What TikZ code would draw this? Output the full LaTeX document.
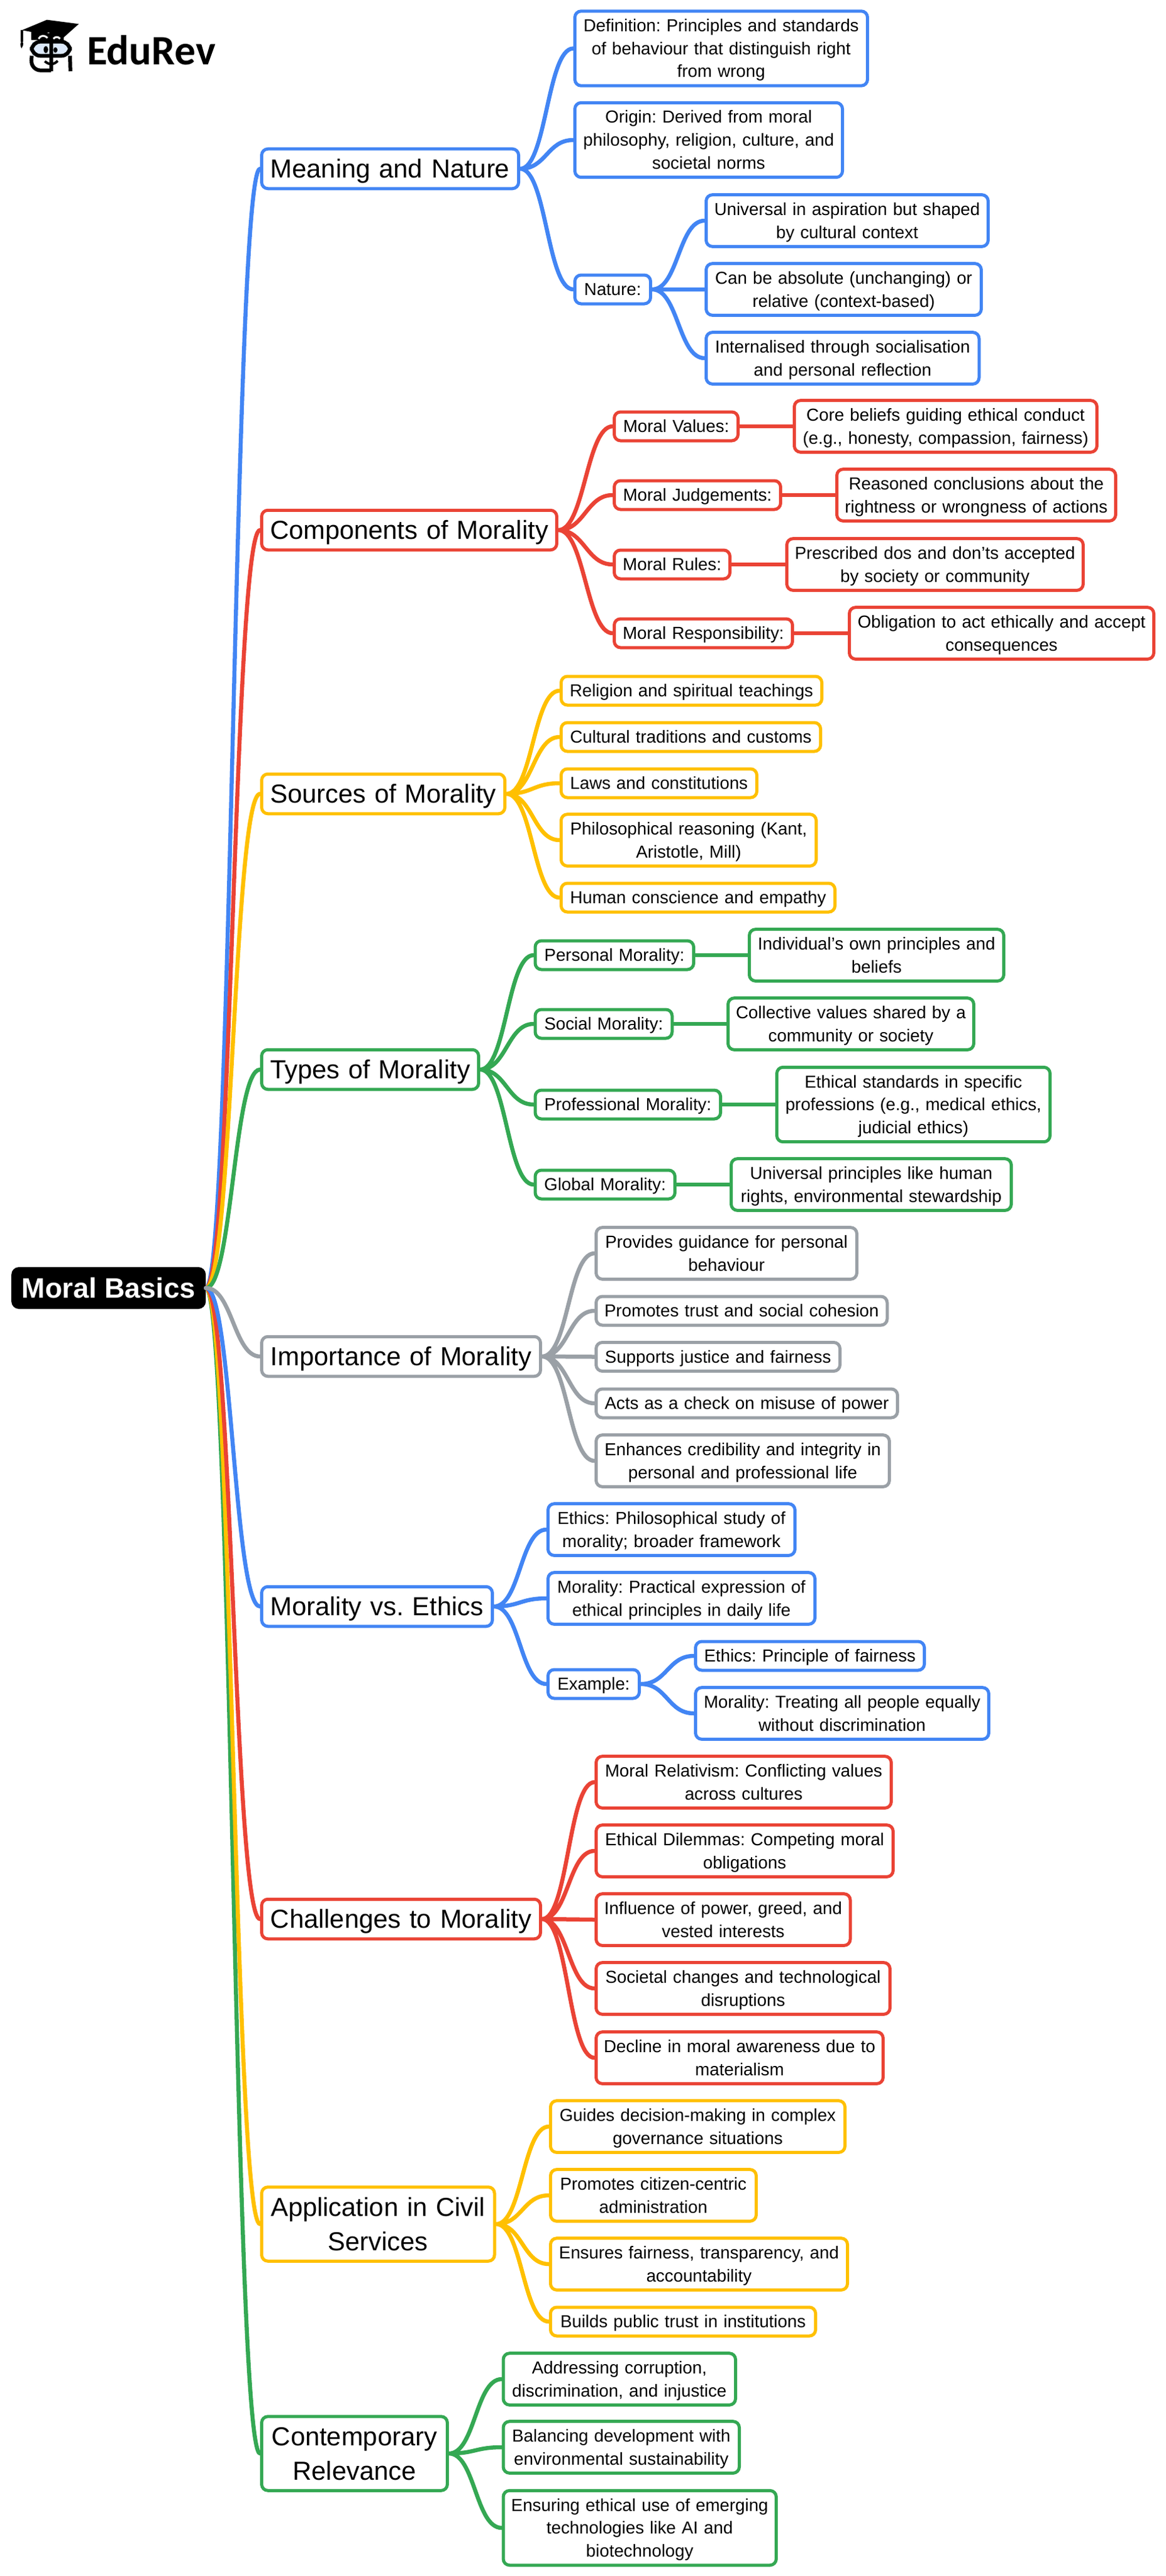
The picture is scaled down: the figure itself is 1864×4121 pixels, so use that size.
\documentclass[tikz,border=0pt]{standalone}
\usepackage{fontspec}
\setmainfont{Liberation Sans}
\newfontfamily\logofont{Carlito}
\definecolor{mapblue}{HTML}{4285F4}
\definecolor{mapred}{HTML}{EA4335}
\definecolor{mapyellow}{HTML}{FFC000}
\definecolor{mapgreen}{HTML}{34A853}
\definecolor{mapgray}{HTML}{9AA0A6}
\definecolor{mapglass}{HTML}{DCE9FB}
\newcommand{\leafstrut}{\rule[-8.65pt]{0pt}{36.7pt}}
\newcommand{\branchstrut}{\rule[-12.95pt]{0pt}{55pt}}

\begin{document}
\frenchspacing
\begin{tikzpicture}[x=1pt,y=-1pt,
   rootbox/.style={fill=black,text=white,rounded corners=12pt,anchor=west,minimum width=311pt,
      minimum height=67pt,inner sep=0pt,font=\fontsize{45}{50}\selectfont\bfseries},
   mapbox/.style={fill=white,line width=5pt,rounded corners=10pt,anchor=west,align=center,inner xsep=0pt},
   branch/.style={mapbox,inner ysep=4.25pt,font=\fontsize{41.7}{55}\selectfont,
      execute at begin node=\branchstrut,execute at end node=\branchstrut},
   leaf/.style={mapbox,inner ysep=4.65pt,font=\fontsize{27.8}{36.7}\selectfont,
      execute at begin node=\leafstrut,execute at end node=\leafstrut},
   link/.style={line width=6.5pt,line cap=round,to path={.. controls +(42,0) and +(-42,0) .. (\tikztotarget)}}]
\useasboundingbox (0,0) rectangle (1864,4121);

% logo
\begin{scope}[shift={(20,20)},x=0.3333pt,y=-0.3333pt]
\fill[mapglass] (92,142) rectangle (276,206);
\fill (45,85) -- (165,35) -- (318,55) -- (243,122) -- (170,95) -- (150,130) -- (90,130) -- (90,93) -- cycle;
\fill (90,100) rectangle (245,132);
\draw[white,line width=3pt] (125,126) .. controls (135,108) and (155,108) .. (168,122);
\draw[white,line width=3pt] (196,126) .. controls (205,115) and (220,115) .. (228,126);
\draw[line width=3.5pt] (45,85) -- (45,142);
\fill (45,138) .. controls (33,148) and (38,160) .. (43,172) .. controls (50,160) and (58,148) .. (45,138);
\draw[line width=6pt,rounded corners=14pt] (92,140) rectangle (276,208);
\draw[line width=6pt] (185,132) -- (185,282);
\draw[line width=6pt,rounded corners=16pt] (92,208) -- (88,278) -- (185,278);
\draw[line width=6pt,rounded corners=16pt] (276,208) -- (278,282);
\fill (160,178) ellipse [x radius=11,y radius=17];
\fill (206,180) ellipse [x radius=10,y radius=13];
\draw[line width=4pt] (155,234) .. controls (175,252) and (198,252) .. (217,232);
\end{scope}
\node[anchor=west,inner sep=0pt,font=\fontsize{67}{67}\selectfont\logofont\bfseries] (logotext) at (139,80) {EduRev};

\node[rootbox] (root) at (18,2060.5) {Moral Basics};

\node[branch,draw=mapblue,text width=411pt] (mean) at (416,270) {Meaning and Nature};
\node[leaf,draw=mapblue,text width=468pt] (defn) at (917,77.5) {Definition: Principles and standards\\of behaviour that distinguish right\\from wrong};
\node[leaf,draw=mapblue,text width=428pt] (orig) at (917,224) {Origin: Derived from moral\\philosophy, religion, culture, and\\societal norms};
\node[leaf,draw=mapblue,text width=121pt] (natr) at (917,463) {Nature:};
\node[leaf,draw=mapblue,text width=451pt] (univ) at (1127,353) {Universal in aspiration but shaped\\by cultural context};
\node[leaf,draw=mapblue,text width=440pt] (absl) at (1127,463) {Can be absolute (unchanging) or\\relative (context-based)};
\node[leaf,draw=mapblue,text width=436.5pt] (intl) at (1127,573) {Internalised through socialisation\\and personal reflection};

\node[branch,draw=mapred,text width=472pt] (comp) at (416,848) {Components of Morality};
\node[leaf,draw=mapred,text width=198pt] (mval) at (980,682) {Moral Values:};
\node[leaf,draw=mapred,text width=484pt] (core) at (1268,682) {Core beliefs guiding ethical conduct\\(e.g., honesty, compassion, fairness)};
\node[leaf,draw=mapred,text width=266pt] (mjud) at (980,792) {Moral Judgements:};
\node[leaf,draw=mapred,text width=446pt] (reas) at (1336,792) {Reasoned conclusions about the\\rightness or wrongness of actions};
\node[leaf,draw=mapred,text width=185pt] (mrul) at (980,903) {Moral Rules:};
\node[leaf,draw=mapred,text width=474pt] (pres) at (1256,903) {Prescribed dos and don’ts accepted\\by society or community};
\node[leaf,draw=mapred,text width=285pt] (mres) at (980,1013) {Moral Responsibility:};
\node[leaf,draw=mapred,text width=487pt] (oblg) at (1356,1013) {Obligation to act ethically and accept\\consequences};

\node[branch,draw=mapyellow,text width=389pt] (srcs) at (416,1270) {Sources of Morality};
\node[leaf,draw=mapyellow,text width=417pt] (relg) at (895,1105) {Religion and spiritual teachings};
\node[leaf,draw=mapyellow,text width=415pt] (cult) at (895,1179) {Cultural traditions and customs};
\node[leaf,draw=mapyellow,text width=313pt] (laws) at (895,1253) {Laws and constitutions};
\node[leaf,draw=mapyellow,text width=408pt] (phil) at (895,1344) {Philosophical reasoning (Kant,\\Aristotle, Mill)};
\node[leaf,draw=mapyellow,text width=438pt] (humn) at (895,1436) {Human conscience and empathy};

\node[branch,draw=mapgreen,text width=347pt] (typs) at (416,1711) {Types of Morality};
\node[leaf,draw=mapgreen,text width=253.5pt] (pers) at (853.5,1528) {Personal Morality:};
\node[leaf,draw=mapgreen,text width=407pt] (indv) at (1196,1528) {Individual’s own principles and\\beliefs};
\node[leaf,draw=mapgreen,text width=219pt] (socl) at (853.5,1638) {Social Morality:};
\node[leaf,draw=mapgreen,text width=393pt] (coll) at (1162,1638) {Collective values shared by a\\community or society};
\node[leaf,draw=mapgreen,text width=296.5pt] (prof) at (853.5,1767) {Professional Morality:};
\node[leaf,draw=mapgreen,text width=437pt] (stds) at (1240,1767) {Ethical standards in specific\\professions (e.g., medical ethics,\\judicial ethics)};
\node[leaf,draw=mapgreen,text width=223.5pt] (glob) at (853.5,1895) {Global Morality:};
\node[leaf,draw=mapgreen,text width=448pt] (prin) at (1167,1895) {Universal principles like human\\rights, environmental stewardship};

\node[branch,draw=mapgray,text width=446pt] (impt) at (416,2170) {Importance of Morality};
\node[leaf,draw=mapgray,text width=417pt] (prov) at (951,2005) {Provides guidance for personal\\behaviour};
\node[leaf,draw=mapgray,text width=465.5pt] (trst) at (951,2097) {Promotes trust and social cohesion};
\node[leaf,draw=mapgray,text width=390pt] (just) at (951,2170.5) {Supports justice and fairness};
\node[leaf,draw=mapgray,text width=482pt] (chck) at (951,2245) {Acts as a check on misuse of power};
\node[leaf,draw=mapgray,text width=469pt] (cred) at (951,2337) {Enhances credibility and integrity in\\personal and professional life};

\node[branch,draw=mapblue,text width=369pt] (mvse) at (416,2570) {Morality vs. Ethics};
\node[leaf,draw=mapblue,text width=395pt] (ethc) at (874,2447) {Ethics: Philosophical study of\\morality; broader framework};
\node[leaf,draw=mapblue,text width=427pt] (prac) at (874,2557) {Morality: Practical expression of\\ethical principles in daily life};
\node[leaf,draw=mapblue,text width=146pt] (exmp) at (874,2694) {Example:};
\node[leaf,draw=mapblue,text width=366pt] (fair) at (1110,2649) {Ethics: Principle of fairness};
\node[leaf,draw=mapblue,text width=469pt] (trtg) at (1110,2741) {Morality: Treating all people equally\\without discrimination};

\node[branch,draw=mapred,text width=446pt] (chal) at (416,3070) {Challenges to Morality};
\node[leaf,draw=mapred,text width=472pt] (relv) at (951,2851) {Moral Relativism: Conflicting values\\across cultures};
\node[leaf,draw=mapred,text width=475pt] (dilm) at (951,2961) {Ethical Dilemmas: Competing moral\\obligations};
\node[leaf,draw=mapred,text width=406.5pt] (infl) at (951,3071) {Influence of power, greed, and\\vested interests};
\node[leaf,draw=mapred,text width=470pt] (socc) at (951,3181) {Societal changes and technological\\disruptions};
\node[leaf,draw=mapred,text width=459pt] (decl) at (951,3292) {Decline in moral awareness due to\\materialism};

\node[branch,draw=mapyellow,text width=372.5pt] (appl) at (416,3558) {Application in Civil\\Services};
\node[leaf,draw=mapyellow,text width=471pt] (guid) at (878,3402) {Guides decision-making in complex\\governance situations};
\node[leaf,draw=mapyellow,text width=329pt] (citz) at (878,3512) {Promotes citizen-centric\\administration};
\node[leaf,draw=mapyellow,text width=475pt] (ensr) at (878,3622) {Ensures fairness, transparency, and\\accountability};
\node[leaf,draw=mapyellow,text width=424pt] (bild) at (878,3714) {Builds public trust in institutions};

\node[branch,draw=mapgreen,text width=297pt] (cont) at (416,3925) {Contemporary\\Relevance};
\node[leaf,draw=mapgreen,text width=371.5pt] (addr) at (802.5,3806) {Addressing corruption,\\discrimination, and injustice};
\node[leaf,draw=mapgreen,text width=377.5pt] (balc) at (802.5,3915) {Balancing development with\\environmental sustainability};
\node[leaf,draw=mapgreen,text width=436.5pt] (tech) at (802.5,4044) {Ensuring ethical use of emerging\\technologies like AI and\\biotechnology};

% root links, nearest branch on top
\draw[link,mapblue] (root.east) to (mean.west);
\draw[link,mapred] (root.east) to (comp.west);
\draw[link,mapyellow] (root.east) to (srcs.west);
\draw[link,mapgreen] (root.east) to (typs.west);
\draw[link,mapgreen] (root.east) to (cont.west);
\draw[link,mapyellow] (root.east) to (appl.west);
\draw[link,mapred] (root.east) to (chal.west);
\draw[link,mapblue] (root.east) to (mvse.west);
\draw[link,mapgray] (root.east) to (impt.west);

\draw[link,mapblue] (mean.east) to (defn.west) (mean.east) to (orig.west) (mean.east) to (natr.west);
\draw[link,mapblue] (natr.east) to (univ.west) (natr.east) to (absl.west) (natr.east) to (intl.west);

\draw[link,mapred] (comp.east) to (mval.west) (comp.east) to (mjud.west) (comp.east) to (mrul.west) (comp.east) to (mres.west);
\draw[link,mapred] (mval.east) to (core.west);
\draw[link,mapred] (mjud.east) to (reas.west);
\draw[link,mapred] (mrul.east) to (pres.west);
\draw[link,mapred] (mres.east) to (oblg.west);

\draw[link,mapyellow] (srcs.east) to (relg.west) (srcs.east) to (cult.west) (srcs.east) to (laws.west) (srcs.east) to (phil.west) (srcs.east) to (humn.west);

\draw[link,mapgreen] (typs.east) to (pers.west) (typs.east) to (socl.west) (typs.east) to (prof.west) (typs.east) to (glob.west);
\draw[link,mapgreen] (pers.east) to (indv.west);
\draw[link,mapgreen] (socl.east) to (coll.west);
\draw[link,mapgreen] (prof.east) to (stds.west);
\draw[link,mapgreen] (glob.east) to (prin.west);

\draw[link,mapgray] (impt.east) to (prov.west) (impt.east) to (trst.west) (impt.east) to (just.west) (impt.east) to (chck.west) (impt.east) to (cred.west);

\draw[link,mapblue] (mvse.east) to (ethc.west) (mvse.east) to (prac.west) (mvse.east) to (exmp.west);
\draw[link,mapblue] (exmp.east) to (fair.west) (exmp.east) to (trtg.west);

\draw[link,mapred] (chal.east) to (relv.west) (chal.east) to (dilm.west) (chal.east) to (infl.west) (chal.east) to (socc.west) (chal.east) to (decl.west);

\draw[link,mapyellow] (appl.east) to (guid.west) (appl.east) to (citz.west) (appl.east) to (ensr.west) (appl.east) to (bild.west);

\draw[link,mapgreen] (cont.east) to (addr.west) (cont.east) to (balc.west) (cont.east) to (tech.west);
\end{tikzpicture}
\end{document}
